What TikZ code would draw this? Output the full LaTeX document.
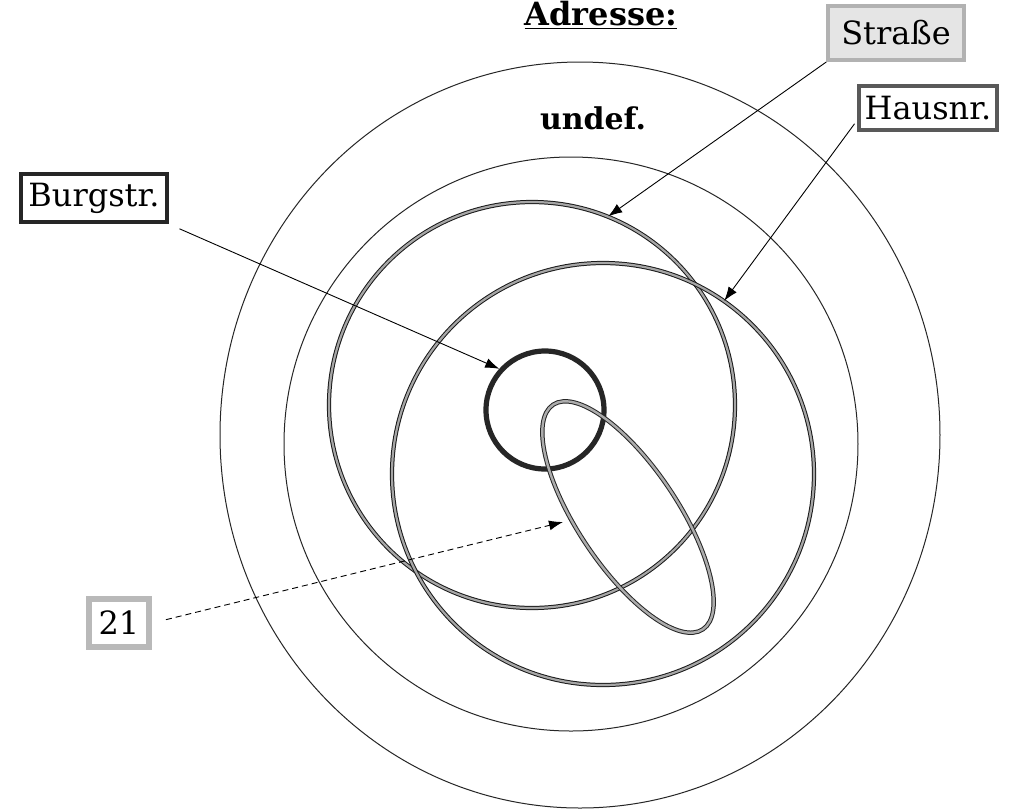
\documentclass[tikz,border=0pt]{standalone}
\usepackage{fontspec}
\setmainfont{DejaVu Serif}
\usetikzlibrary{arrows.meta, positioning, shapes.geometric}

\tikzset{
  duenn/.style={draw=black!85, line width=0.5pt},
  menge/.style={circle, inner sep=0pt, draw=black!90, line width=0.5pt,
    double=gray!70, double distance=1.1pt},
  pfeil/.style={-{Latex[length=7pt,width=5pt]}, line width=0.45pt},
  etikett/.style={rectangle, fill=white, inner ysep=0pt,
    font=\fontsize{16}{18}\selectfont},
}

\begin{document}
\begin{tikzpicture}[x=0.5pt, y=-0.5pt]
  \path[use as bounding box, fill=white] (0,0) rectangle (1009,811);

  % Wertebereiche
  \draw[duenn] (580,435) ellipse [x radius=360, y radius=373];
  \draw[duenn] (571,444) circle [radius=287];
  \node[menge, minimum size=203pt] (kStrasse) at (532,405) {};
  \node[menge, minimum size=211pt] (kHausnr) at (603,474) {};
  \node[circle, inner sep=0pt, minimum size=59pt, draw=black!85, line width=2.6pt] (kBurg) at (545,410) {};
  \node[ellipse, rotate=-56.3, inner sep=0pt, minimum width=135pt, minimum height=50pt,
    draw=black!85, line width=0.5pt, double=gray!65, double distance=1.2pt] (k21) at (628,517) {};
  \coordinate (p21) at (563,522);

  % Beschriftung
  \node[font=\bfseries\fontsize{16}{18}\selectfont, anchor=base] (titel) at (601,25) {\underline{Adresse:}};
  \node[font=\bfseries\fontsize{15}{18}\selectfont] (undef) at (593,118) {undef.};
  \node[etikett, draw=gray!60, fill=gray!20, line width=2pt, inner xsep=6.5pt, minimum height=27pt] (strasse) at (896,33) {Straße};
  \node[etikett, draw=black!65, line width=1.8pt, inner xsep=3pt, minimum height=22pt] (hausnr) at (928,108) {Hausnr.};
  \node[etikett, draw=black!85, line width=2pt, inner xsep=3.5pt, minimum height=24pt] (burgstr) at (94,198) {Burgstr.};
  \node[etikett, draw=gray!55, line width=3pt, inner xsep=5pt, minimum height=24pt] (nr21) at (119,623) {21};

  \draw[pfeil] (strasse.south west) -- (kStrasse.68);
  \draw[pfeil, shorten <=2pt] (hausnr.190) -- (kHausnr.55);
  \draw[pfeil, shorten <=6pt] (burgstr.south east) -- (kBurg.138);
  \draw[pfeil, densely dashed, shorten <=7pt] (nr21.east) -- (p21);
\end{tikzpicture}
\end{document}
